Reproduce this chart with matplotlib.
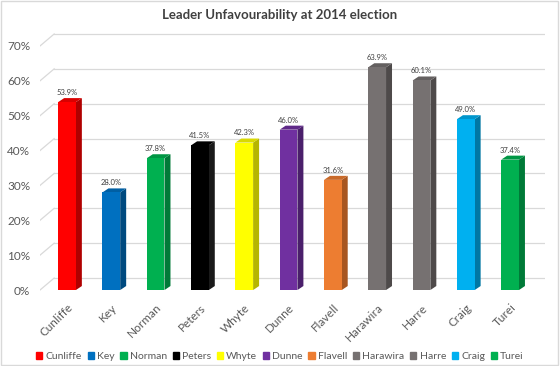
import numpy as np
import matplotlib.pyplot as plt
from matplotlib.patches import Polygon, Rectangle
from matplotlib.colors import to_rgb

# Data
leaders = ['Cunliffe', 'Key', 'Norman', 'Peters', 'Whyte', 'Dunne',
           'Flavell', 'Harawira', 'Harre', 'Craig', 'Turei']
unfav = [53.9, 28.0, 37.8, 41.5, 42.3, 46.0, 31.6, 63.9, 60.1, 49.0, 37.4]
face_colors = ['#FF0000', '#0070C0', '#00B050', '#000000', '#FFFF00', '#7030A0',
               '#ED7D31', '#767171', '#767171', '#00B0F0', '#00B050']
side_colors = ['#B00000', '#004A7F', '#007A38', '#1A1A1A', '#B5B500', '#4A1F6B',
               '#A85620', '#4E4A4A', '#4E4A4A', '#0077A3', '#007A38']
yticks = [0, 10, 20, 30, 40, 50, 60, 70]

plt.rcParams['font.family'] = ['Lato', 'DejaVu Sans']
text_gray = '#595959'

fig = plt.figure(figsize=(5.6, 3.66), dpi=100)
fig.patches.append(Rectangle((0.002, 0.003), 0.995, 0.994, transform=fig.transFigure,
                             fill=False, edgecolor='#D9D9D9', linewidth=1))
ax = fig.add_axes([0.0714, 0.198, 0.902, 0.724])

x = np.arange(len(leaders))
w = 0.40
dx, dy = 0.135, 1.15       # depth of bars
gdx, gdy = 0.32, 3.44      # depth of back wall

ax.set_xlim(-0.61, 10.79)
ax.set_ylim(-1, 75)

# back wall gridlines with perspective diagonals
for t in yticks:
    ax.plot([-0.61 + gdx, 10.79], [t + gdy, t + gdy], color='#D9D9D9', lw=0.9, zorder=0)
    ax.plot([-0.61, -0.61 + gdx], [t, t + gdy], color='#D9D9D9', lw=0.9, zorder=0)

ax.bar(x, unfav, width=w, color=face_colors, zorder=3)
for xi, v, fc, sc in zip(x, unfav, face_colors, side_colors):
    r = xi + w / 2
    l = xi - w / 2
    ax.add_patch(Polygon([(r, 0), (r + dx, dy), (r + dx, v + dy), (r, v)],
                         closed=True, facecolor=sc, edgecolor='none', zorder=2))
    top = tuple(c * 0.85 for c in to_rgb(fc))
    ax.add_patch(Polygon([(l, v), (r, v), (r + dx, v + dy), (l + dx, v + dy)],
                         closed=True, facecolor=top, edgecolor='none', zorder=2))
    ax.text(xi, v + dy + 0.6, f'{v:.1f}%', ha='center', va='bottom',
            fontsize=5.5, color='#404040', zorder=4)

ax.set_yticks(yticks)
ax.set_yticklabels([f'{t}%' for t in yticks], fontsize=8.5, color=text_gray)
ax.set_xticks(x)
ax.set_xticklabels(leaders, rotation=45, ha='right', rotation_mode='anchor',
                   fontsize=8.5, color=text_gray)
ax.tick_params(axis='both', length=0)
ax.tick_params(axis='y', pad=7)
ax.tick_params(axis='x', pad=6)
for s in ax.spines.values():
    s.set_visible(False)

fig.suptitle('Leader Unfavourability at 2014 election', y=0.975, fontsize=9.5,
             fontweight='bold', color='#404040')

handles = [Rectangle((0, 0), 1, 1, color=c) for c in face_colors]
fig.legend(handles, leaders, loc='center', bbox_to_anchor=(0.5, 0.025), ncol=11,
           frameon=False, fontsize=7.5, handlelength=0.6, handleheight=0.6,
           handletextpad=0.3, columnspacing=0.55, labelcolor=text_gray)

fig.savefig('out.png', dpi=100)
